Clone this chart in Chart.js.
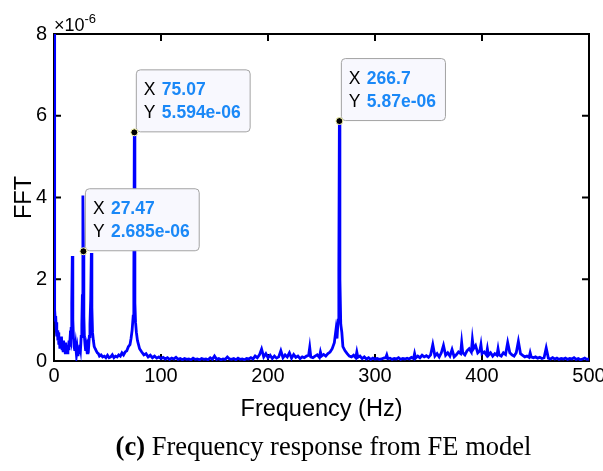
<!DOCTYPE html>
<html>
<head>
<meta charset="utf-8">
<script src="https://cdn.jsdelivr.net/npm/chart.js@4.4.1/dist/chart.umd.min.js"></script>
<style>
  html, body { margin: 0; padding: 0; background: #fff; }
  #wrap { position: relative; width: 603px; height: 471px; }
  #caption {
    position: absolute; left: 22px; width: 603px; top: 431px;
    text-align: center; white-space: nowrap; color: #000;
    font: 26.5px "Liberation Serif", "Times New Roman", serif;
  }
</style>
</head>
<body>
<div id="wrap">
  <canvas id="fftChart" width="603" height="471"></canvas>
  <div id="caption"><b>(c)</b> Frequency response from FE model</div>
</div>
<script>
// spectrum (amplitude in units of 1e-6)
const freqHz = [
  0, 0.4, 0.8, 1.2, 1.6, 2.0, 2.4, 2.8, 3.2, 3.6, 4.0, 4.5, 5.0, 5.5, 6.0, 6.5, 7.0, 7.5, 8.0, 8.5,
  9.0, 9.5, 10.0, 10.5, 11.0, 11.5, 12.0, 12.5, 13.0, 13.5, 14.0, 14.5, 15.0, 15.5, 16.0, 16.6, 17.1, 17.6, 18.2, 18.8,
  19.5, 20.2, 21.0, 21.7, 22.4, 23.0, 23.6, 24.2, 24.8, 25.4, 26.0, 26.5, 27.0, 27.47, 27.9, 28.4, 29.0, 29.6, 30.3, 31.0,
  31.7, 32.4, 33.0, 33.6, 34.3, 34.9, 35.4, 36.0, 36.8, 37.6, 38.5, 39.5, 40.5, 41.5, 42.5, 44, 45.5, 47, 48.5, 50,
  51.5, 53, 54.5, 56, 57.5, 59, 60.5, 62, 63.5, 65, 66.5, 68, 69.5, 71, 72, 73, 74, 74.6, 75.07, 75.6,
  76.2, 77, 78, 79, 80, 82, 84, 86, 88, 90, 92, 94, 96, 98, 100, 102, 104, 106, 108, 110,
  112, 114, 116, 118, 120, 122, 124, 126, 128, 130, 132, 134, 136, 138, 140, 142, 144, 146, 148, 150,
  152, 154, 156, 158, 160, 162, 164, 166, 168, 170, 172, 174, 176, 178, 180, 182, 184, 186, 188, 190,
  192, 194, 196, 198, 200, 202, 204, 206, 208, 210, 212, 214, 216, 218, 220, 222, 224, 226, 228, 230,
  232, 234, 236, 238, 239, 240, 242, 244, 246, 248, 249, 250, 252, 254, 256, 258, 260, 262, 263.5, 264.5,
  265.5, 266.2, 266.7, 267.2, 268, 269, 270, 272, 274, 276, 278, 280, 282, 283, 284, 286, 288, 290, 292, 294,
  296, 298, 300, 302, 304, 306, 308, 310, 311, 312, 314, 316, 318, 320, 322, 324, 326, 328, 330, 332,
  334, 336, 337, 338, 340, 342, 344, 346, 348, 350, 352, 354, 356, 358, 360, 362, 364, 366, 368, 370,
  372, 374, 376, 378, 380, 381, 382, 384, 386, 388, 390, 391, 392, 394, 396, 398, 399, 400, 402, 404,
  405, 406, 408, 410, 412, 414, 415, 416, 418, 420, 422, 424, 426, 428, 430, 432, 434, 436, 438, 440,
  442, 444, 445, 446, 448, 450, 452, 454, 456, 458, 460, 462, 464, 466, 468, 470, 472, 474, 476, 478,
  480, 482, 484, 486, 488, 490, 492, 494, 496, 498, 500
];
const fftAmp = [
  12, 1.5, 1.25, 1.0, 1.1, 0.8, 0.95, 0.6, 0.75, 0.5, 0.7, 0.4, 0.55, 0.3, 0.5, 0.35, 0.6, 0.3, 0.45, 0.25,
  0.5, 0.3, 0.4, 0.2, 0.45, 0.25, 0.35, 0.2, 0.4, 0.3, 0.5, 0.35, 0.55, 0.5, 0.8, 1.4, 2.57, 1.0, 0.55, 0.35,
  0.25, 0.4, 0.15, 0.3, 0.12, 0.35, 0.2, 0.4, 0.3, 0.6, 0.9, 1.6, 4.05, 2.685, 1.1, 0.6, 0.4, 0.25, 0.35, 0.2,
  0.4, 0.35, 0.6, 0.9, 1.5, 2.64, 1.3, 0.7, 0.5, 0.35, 0.3, 0.25, 0.2, 0.18, 0.12, 0.15, 0.1, 0.12, 0.08, 0.14,
  0.08, 0.1, 0.15, 0.08, 0.12, 0.1, 0.15, 0.12, 0.2, 0.15, 0.22, 0.25, 0.35, 0.4, 0.55, 0.75, 1.1, 1.9, 5.594, 1.42,
  0.95, 0.7, 0.5, 0.4, 0.3, 0.22, 0.15, 0.18, 0.1, 0.14, 0.08, 0.12, 0.07, 0.1, 0.06, 0.09, 0.05, 0.08, 0.04, 0.07,
  0.05, 0.09, 0.04, 0.06, 0.03, 0.06, 0.04, 0.05, 0.03, 0.07, 0.04, 0.05, 0.03, 0.06, 0.04, 0.05, 0.03, 0.08, 0.04, 0.12,
  0.04, 0.06, 0.03, 0.05, 0.04, 0.1, 0.05, 0.04, 0.06, 0.03, 0.07, 0.04, 0.05, 0.03, 0.06, 0.05, 0.08, 0.05, 0.12, 0.08,
  0.15, 0.29, 0.1, 0.18, 0.08, 0.14, 0.06, 0.12, 0.07, 0.1, 0.25, 0.08, 0.15, 0.1, 0.2, 0.07, 0.16, 0.09, 0.12, 0.06,
  0.1, 0.08, 0.12, 0.14, 0.33, 0.1, 0.08, 0.12, 0.15, 0.09, 0.22, 0.12, 0.16, 0.12, 0.18, 0.22, 0.3, 0.45, 0.76, 0.55,
  1.0, 2.2, 5.87, 2.0, 0.9, 0.7, 0.35, 0.25, 0.18, 0.12, 0.1, 0.14, 0.08, 0.22, 0.09, 0.12, 0.06, 0.1, 0.05, 0.08,
  0.04, 0.07, 0.05, 0.06, 0.04, 0.05, 0.07, 0.08, 0.15, 0.06, 0.07, 0.04, 0.06, 0.05, 0.08, 0.04, 0.06, 0.05, 0.07, 0.05,
  0.09, 0.06, 0.18, 0.07, 0.12, 0.08, 0.14, 0.1, 0.13, 0.09, 0.15, 0.4, 0.12, 0.18, 0.1, 0.2, 0.38, 0.14, 0.2, 0.12,
  0.28, 0.1, 0.15, 0.22, 0.18, 0.45, 0.2, 0.15, 0.25, 0.3, 0.22, 0.52, 0.3, 0.38, 0.2, 0.25, 0.4, 0.18, 0.22, 0.15,
  0.3, 0.14, 0.2, 0.12, 0.18, 0.14, 0.3, 0.15, 0.12, 0.2, 0.16, 0.45, 0.2, 0.15, 0.12, 0.2, 0.48, 0.18, 0.14, 0.1,
  0.12, 0.09, 0.2, 0.1, 0.08, 0.1, 0.07, 0.09, 0.06, 0.08, 0.32, 0.07, 0.05, 0.08, 0.05, 0.07, 0.04, 0.06, 0.05, 0.07,
  0.04, 0.06, 0.05, 0.08, 0.04, 0.06, 0.03, 0.05, 0.07, 0.04, 0.05
];

// data tips shown on the figure
const tipFreq = [27.47, 75.07, 266.7];
const tipAmp = [2.685, 5.594, 5.87];

const xTicks = [0, 100, 200, 300, 400, 500];
const yTicks = [0, 2, 4, 6, 8];

const SANS = '"Liberation Sans", Arial, Helvetica, sans-serif';

// box + inward tick marks, drawn under the line like MATLAB
const axesBox = {
  id: 'axesBox',
  beforeDatasetsDraw(chart) {
    const { ctx, chartArea: a, scales } = chart;
    ctx.save();
    ctx.strokeStyle = '#000';
    ctx.lineWidth = 2;
    ctx.strokeRect(a.left, a.top, a.right - a.left, a.bottom - a.top);
    const len = 7;
    ctx.beginPath();
    xTicks.forEach(v => {
      const px = scales.x.getPixelForValue(v);
      ctx.moveTo(px, a.bottom); ctx.lineTo(px, a.bottom - len);
      ctx.moveTo(px, a.top); ctx.lineTo(px, a.top + len);
    });
    yTicks.forEach(v => {
      const py = scales.y.getPixelForValue(v);
      ctx.moveTo(a.left, py); ctx.lineTo(a.left + len, py);
      ctx.moveTo(a.right, py); ctx.lineTo(a.right - len, py);
    });
    ctx.stroke();
    ctx.restore();
  },
  afterDraw(chart) {
    // x10^-6 exponent label
    const { ctx, chartArea: a } = chart;
    ctx.save();
    ctx.fillStyle = '#000';
    ctx.textBaseline = 'alphabetic';
    ctx.font = '18px ' + SANS;
    ctx.fillText('\u00d710', a.left, a.top - 3);
    const w = ctx.measureText('\u00d710').width;
    ctx.font = '13px ' + SANS;
    ctx.fillText('-6', a.left + w, a.top - 11);
    ctx.restore();
  }
};

const dataTips = {
  id: 'dataTips',
  afterDatasetsDraw(chart) {
    const { ctx, scales } = chart;
    ctx.save();
    tipFreq.forEach((f, i) => {
      const px = scales.x.getPixelForValue(f);
      const py = scales.y.getPixelForValue(tipAmp[i]);
      const xs = String(f);
      const ys = tipAmp[i] + 'e-06';

      ctx.font = 'bold 17.5px ' + SANS;
      const vw = Math.max(ctx.measureText(xs).width, ctx.measureText(ys).width);
      const lw = 18;

      const bx = px + 1.5, bh = 62, bw = 8 + lw + vw + 9, by = py - 1 - bh;
      ctx.beginPath();
      ctx.roundRect(bx + 0.5, by + 0.5, bw, bh, 4);
      ctx.fillStyle = '#f8f8fe';
      ctx.fill();
      ctx.strokeStyle = '#a3a3a3';
      ctx.lineWidth = 1;
      ctx.stroke();

      ctx.textBaseline = 'middle';
      ctx.fillStyle = '#000';
      ctx.font = '17.5px ' + SANS;
      ctx.fillText('X', bx + 8, by + 21);
      ctx.fillText('Y', bx + 8, by + 44);
      ctx.fillStyle = '#1a88f7';
      ctx.font = 'bold 17.5px ' + SANS;
      ctx.fillText(xs, bx + 8 + lw, by + 21);
      ctx.fillText(ys, bx + 8 + lw, by + 44);

      ctx.beginPath();
      ctx.arc(px, py, 3.5, 0, Math.PI * 2);
      ctx.fillStyle = '#000';
      ctx.fill();
      ctx.strokeStyle = '#ffffb0';
      ctx.lineWidth = 1;
      ctx.stroke();
    });
    ctx.restore();
  }
};

new Chart(document.getElementById('fftChart'), {
  type: 'line',
  data: {
    datasets: [{
      data: freqHz.map((f, i) => ({ x: f, y: fftAmp[i] })),
      borderColor: '#0000ff',
      borderWidth: 2.8,
      pointRadius: 0,
      tension: 0,
      fill: false
    }]
  },
  options: {
    responsive: false,
    animation: false,
    events: [],
    layout: { padding: { top: 34, right: 14, bottom: 46, left: 0 } },
    plugins: { legend: { display: false }, tooltip: { enabled: false } },
    scales: {
      x: {
        type: 'linear', min: 0, max: 500,
        grid: { display: false, drawTicks: false }, border: { display: false },
        afterBuildTicks: s => { s.ticks = xTicks.map(v => ({ value: v })); },
        ticks: { color: '#000', font: { size: 20, family: SANS }, padding: 3, maxRotation: 0 },
        title: { display: true, text: 'Frequency (Hz)', color: '#000', font: { size: 23.5, family: SANS }, padding: { top: 0, bottom: 1 } },
        afterFit: s => { s.height = 64; s.paddingLeft = 0; s.paddingRight = 0; }
      },
      y: {
        min: 0, max: 8,
        grid: { display: false, drawTicks: false }, border: { display: false },
        afterBuildTicks: s => { s.ticks = yTicks.map(v => ({ value: v })); },
        ticks: { color: '#000', font: { size: 20, family: SANS }, padding: 7 },
        title: { display: true, text: 'FFT', color: '#000', font: { size: 23.5, family: SANS }, padding: { top: 10, bottom: 0 } },
        afterFit: s => { s.width = 54; s.paddingTop = 0; s.paddingBottom = 0; }
      }
    }
  },
  plugins: [axesBox, dataTips]
});
</script>
</body>
</html>
